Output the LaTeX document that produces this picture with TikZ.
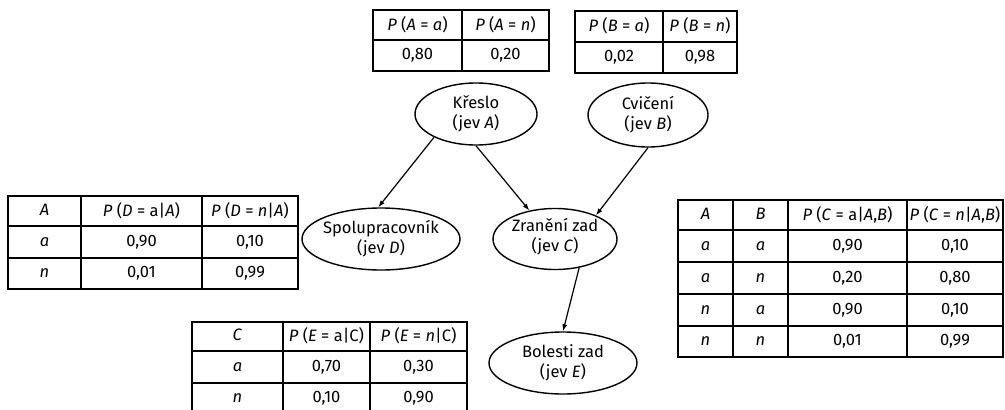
\documentclass[tikz,border=0pt]{standalone}
\usepackage{fontspec}
\setmainfont{Fira Sans}
\usetikzlibrary{shapes.geometric,arrows.meta}
\newcommand\mytcell[6]{\node[tc,minimum width={(#3-#2)*1pt},minimum height={(#5-#4)*1pt}] (#1) at ({(#2+#3)/2},{(#4+#5)/2}) {\makebox[0pt]{\rule[-3pt]{0pt}{14.4pt}#6}};}
\newcommand\ellt[3]{\raisebox{#1}[0pt][0pt]{\makebox[0pt]{\begin{tabular}{@{}c@{}}#2\\#3\end{tabular}}}}
\begin{document}
\begin{tikzpicture}[x=1pt,y=-1pt,
  ell/.style={ellipse,draw,line width=1.4pt,inner sep=0pt,font=\fontsize{16.5}{18.5}\selectfont},
  tc/.style={draw,line width=1.5pt,inner sep=0pt,outer sep=0pt,font=\fontsize{16.5}{18}\selectfont},
  arr/.style={-{Latex[length=7pt,width=5pt]},line width=1.2pt}]
\useasboundingbox (0,0) rectangle (1005,410);
\clip (0,0) rectangle (1005,410);
% P(A)
\mytcell{pa11}{373}{462}{10}{40}{\textit{P} (\textit{A} = \textit{a})}
\mytcell{pa12}{462}{549}{10}{40}{\textit{P} (\textit{A} = \textit{n})}
\mytcell{pa21}{373}{462}{40}{71}{0,80}
\mytcell{pa22}{462}{549}{40}{71}{0,20}
% P(B)
\mytcell{pb11}{575}{663}{11}{42}{\textit{P} (\textit{B} = \textit{a})}
\mytcell{pb12}{663}{737}{11}{42}{\textit{P} (\textit{B} = \textit{n})}
\mytcell{pb21}{575}{663}{42}{73}{0,02}
\mytcell{pb22}{663}{737}{42}{73}{0,98}
% P(D|A)
\mytcell{pd11}{8}{81}{196}{226}{\textit{A}}
\mytcell{pd12}{81}{202}{196}{226}{\textit{P} (\textit{D} = a|\textit{A})}
\mytcell{pd13}{202}{298}{196}{226}{\textit{P} (\textit{D} = \textit{n}|\textit{A})}
\mytcell{pd21}{8}{81}{226}{258}{\textit{a}}
\mytcell{pd22}{81}{202}{226}{258}{0,90}
\mytcell{pd23}{202}{298}{226}{258}{0,10}
\mytcell{pd31}{8}{81}{258}{289}{\textit{n}}
\mytcell{pd32}{81}{202}{258}{289}{0,01}
\mytcell{pd33}{202}{298}{258}{289}{0,99}
% P(C|A,B)
\mytcell{pc11}{678}{733}{200}{230}{\textit{A}}
\mytcell{pc12}{733}{788}{200}{230}{\textit{B}}
\mytcell{pc13}{788}{907}{200}{230}{\textit{P} (\textit{C} = a|\textit{A},\textit{B})}
\mytcell{pc14}{907}{1003}{200}{230}{\textit{P} (\textit{C} = \textit{n}|\textit{A},\textit{B})}
\mytcell{pc21}{678}{733}{230}{262}{\textit{a}}
\mytcell{pc22}{733}{788}{230}{262}{\textit{a}}
\mytcell{pc23}{788}{907}{230}{262}{0,90}
\mytcell{pc24}{907}{1003}{230}{262}{0,10}
\mytcell{pc31}{678}{733}{262}{294}{\textit{a}}
\mytcell{pc32}{733}{788}{262}{294}{\textit{n}}
\mytcell{pc33}{788}{907}{262}{294}{0,20}
\mytcell{pc34}{907}{1003}{262}{294}{0,80}
\mytcell{pc41}{678}{733}{294}{326}{\textit{n}}
\mytcell{pc42}{733}{788}{294}{326}{\textit{a}}
\mytcell{pc43}{788}{907}{294}{326}{0,90}
\mytcell{pc44}{907}{1003}{294}{326}{0,10}
\mytcell{pc51}{678}{733}{326}{357}{\textit{n}}
\mytcell{pc52}{733}{788}{326}{357}{\textit{n}}
\mytcell{pc53}{788}{907}{326}{357}{0,01}
\mytcell{pc54}{907}{1003}{326}{357}{0,99}
% P(E|C)
\mytcell{pe11}{192}{283}{322}{351}{\textit{C}}
\mytcell{pe12}{283}{370}{322}{351}{\textit{P} (\textit{E} = a|C)}
\mytcell{pe13}{370}{467}{322}{351}{\textit{P} (\textit{E} = \textit{n}|C)}
\mytcell{pe21}{192}{283}{351}{383}{\textit{a}}
\mytcell{pe22}{283}{370}{351}{383}{0,70}
\mytcell{pe23}{370}{467}{351}{383}{0,30}
\mytcell{pe31}{192}{283}{383}{414}{\textit{n}}
\mytcell{pe32}{283}{370}{383}{414}{0,10}
\mytcell{pe33}{370}{467}{383}{414}{0,90}
% nodes
\node[ell,minimum width=122pt,minimum height=62pt] (A) at (476,114) {\ellt{-5pt}{Křeslo}{(jev \textit{A})}};
\node[ell,minimum width=120pt,minimum height=64pt] (B) at (648,115) {\ellt{-5pt}{Cvičení}{(jev \textit{B})}};
\node[ell,minimum width=158pt,minimum height=62pt] (D) at (381,239) {\ellt{-5pt}{Spolupracovník}{(jev \textit{D})}};
\node[ell,minimum width=124pt,minimum height=61pt] (C) at (555,239) {\ellt{-3pt}{Zranění zad}{(jev \textit{C})}};
\node[ell,minimum width=148pt,minimum height=62pt] (E) at (563,363) {\ellt{-5pt}{Bolesti zad}{(jev \textit{E})}};
% arrows
\draw[arr] (A.-151) -- (D.95);
\draw[arr] (A.south) -- (C.132);
\draw[arr] (B.south) -- (C.30);
\draw[arr] (C.-50) -- (E.north);
\end{tikzpicture}
\end{document}
